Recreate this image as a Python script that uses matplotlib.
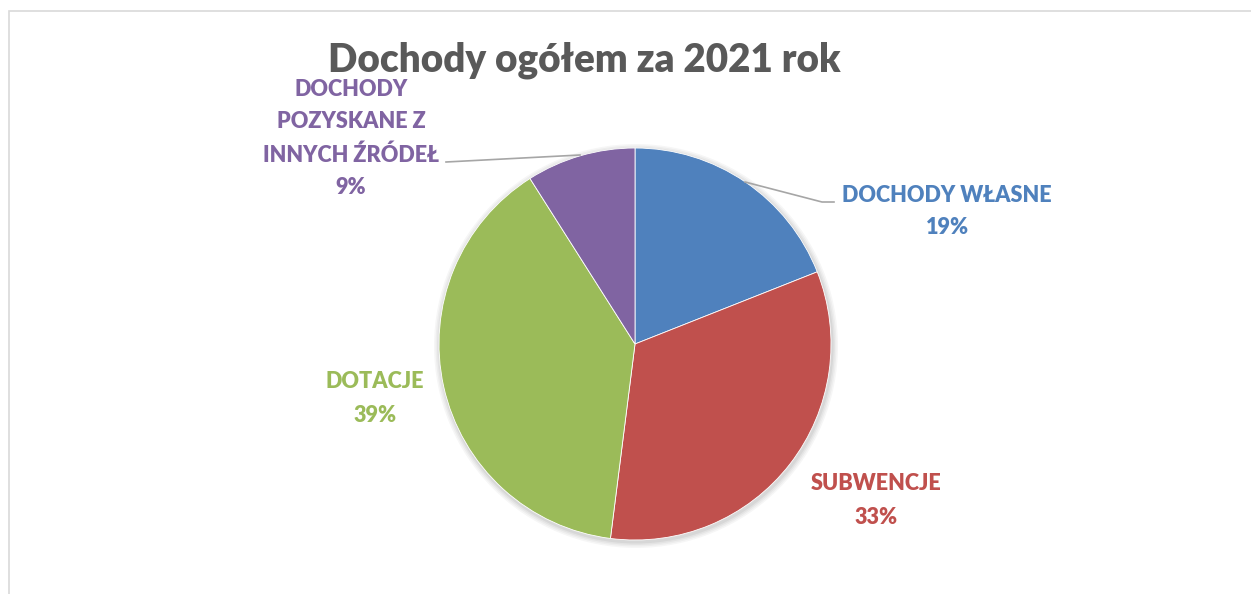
import matplotlib
matplotlib.use("Agg")
import matplotlib.pyplot as plt
from matplotlib.patches import Circle
from matplotlib.lines import Line2D

categories = ["DOCHODY WŁASNE", "SUBWENCJE", "DOTACJE", "DOCHODY\nPOZYSKANE Z\nINNYCH ŹRÓDEŁ"]
values = [19, 33, 39, 9]
colors = ["#4F81BD", "#C0504D", "#9BBB59", "#8064A2"]
title = "Dochody ogółem za 2021 rok"

W, H = 1251, 594
fig = plt.figure(figsize=(W / 100, H / 100), dpi=100)
ax = fig.add_axes([0, 0, 1, 1])

FONT = "Lato"

cx, cy, r = 635, H - 344, 196

wedges, _ = ax.pie(values, colors=colors, startangle=90, counterclock=False,
                   center=(cx, cy), radius=r, frame=True,
                   wedgeprops=dict(linewidth=0.6, edgecolor="white"))
for w in wedges:
    w.set_zorder(2)
ax.set_xlim(0, W)
ax.set_ylim(0, H)
ax.set_aspect("auto")
ax.axis("off")

# chart border (light gray)
ax.plot([8.5, 8.5, W + 5], [-5, H - 10.5, H - 10.5], color="#D9D9D9", lw=1.2,
        solid_joinstyle="miter")

# soft shadow
for i, a in enumerate([0.035, 0.035, 0.04, 0.05]):
    ax.add_patch(Circle((cx + 1, cy - 2), r + 6 - i * 1.5, color="black",
                        alpha=a, lw=0, zorder=1))

ax.text(584, H - 60, title, ha="center", va="center", fontsize=27.8,
        fontweight="heavy", color="#595959", family=FONT)

lab_fs = 15.6
label_pos = [(947, 195), (876, 484), (375, 382), (351, 89)]
pcts = [f"{v}%" for v in values]
line_gap = 33
for (lx, ly), cat, pct, col in zip(label_pos, categories, pcts, colors):
    lines = cat.split("\n") + [pct]
    for j, t in enumerate(lines):
        ax.text(lx, H - (ly + j * line_gap), t, ha="center", va="center",
                fontsize=lab_fs, fontweight="heavy", color=col, family=FONT)

# leader lines
ax.add_line(Line2D([745, 822, 834], [H - 182, H - 202, H - 202], color="#A6A6A6", lw=1.2, zorder=3))
ax.add_line(Line2D([446, 580], [H - 162, H - 155], color="#A6A6A6", lw=1.2, zorder=3))

fig.savefig("out.png", dpi=100, facecolor="white")
